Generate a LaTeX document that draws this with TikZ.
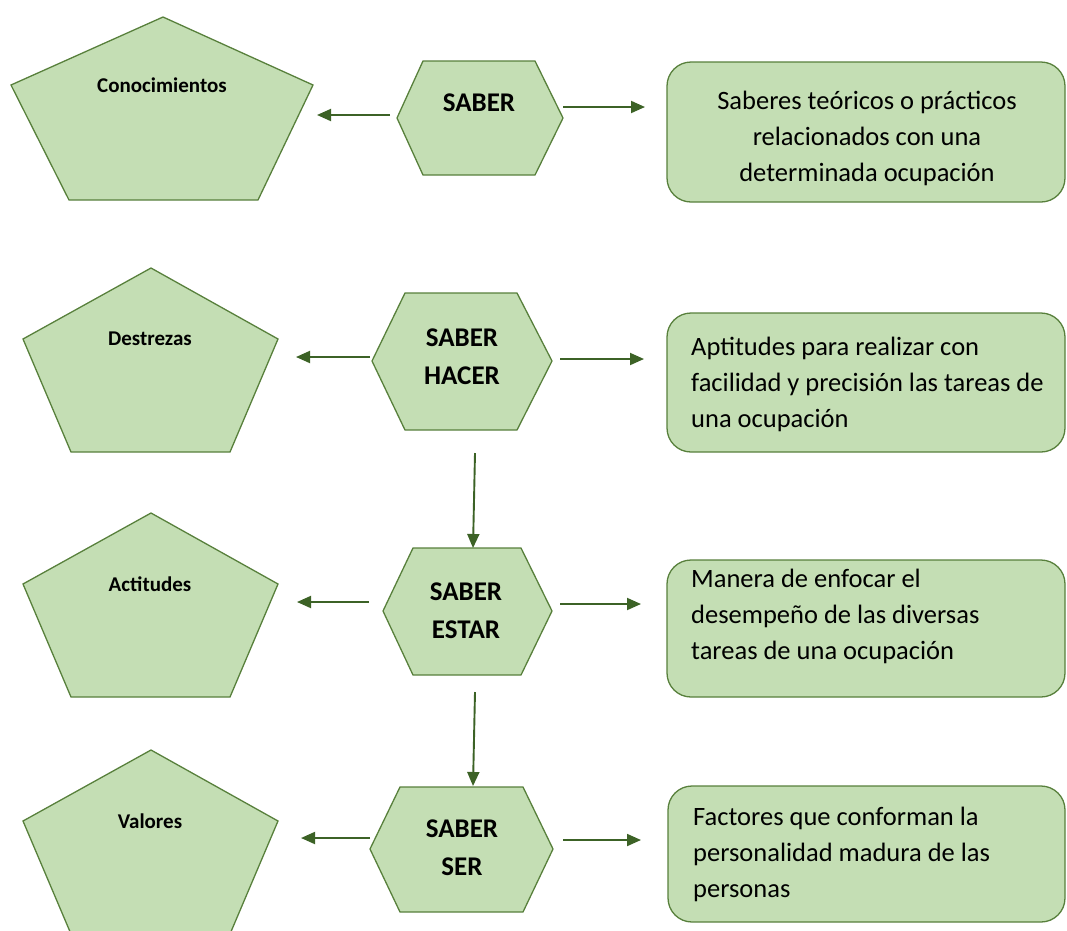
\documentclass[tikz,border=0pt]{standalone}
\usepackage{fontspec}
\setmainfont{Carlito}
\usetikzlibrary{arrows.meta}
\definecolor{fillg}{RGB}{196,222,180}
\definecolor{lineg}{RGB}{88,128,60}
\definecolor{arrg}{RGB}{60,98,38}
\begin{document}
\begin{tikzpicture}[x=1pt,y=-1pt,
  shapeg/.style={fill=fillg,draw=lineg,line width=1.3pt,line join=miter},
  conn/.style={draw=arrg,line width=1.9pt,-{Triangle[length=14pt,width=12pt]}},
  penttext/.style={font=\fontsize{21}{24}\selectfont\bfseries,inner sep=0pt},
  hextext/.style={font=\fontsize{27}{38}\selectfont\bfseries,align=center,inner sep=0pt},
  boxtext/.style={font=\fontsize{26.5}{36}\selectfont,inner sep=0pt},
]
\useasboundingbox (0,0) rectangle (1067,930);

% pentagons
\draw[shapeg] (163,17) -- (313,85) -- (258,200) -- (69,200) -- (11,85) -- cycle;
\node[penttext] (conoc) at (162,85) {Conocimientos};
\draw[shapeg] (151,268) -- (278,339) -- (230,452) -- (71,452) -- (23,339) -- cycle;
\node[penttext] (destr) at (150,339) {Destrezas};
\draw[shapeg] (151,513) -- (278,584) -- (230,697) -- (71,697) -- (23,584) -- cycle;
\node[penttext] (actit) at (150,584) {Actitudes};
\draw[shapeg] (151,750) -- (278,821) -- (230,934) -- (71,934) -- (23,821) -- cycle;
\node[penttext] (valor) at (150,821) {Valores};

% hexagons
\draw[shapeg] (423,61) -- (535,61) -- (563,118) -- (535,175) -- (423,175) -- (397,118) -- cycle;
\node[hextext] (saber) at (479,103) {SABER};
\draw[shapeg] (405,293) -- (517,293) -- (552,361) -- (517,430) -- (405,430) -- (372,361) -- cycle;
\node[hextext] (hacer) at (462,357) {SABER\\HACER};
\draw[shapeg] (413,548) -- (521,548) -- (552,611) -- (521,675) -- (413,675) -- (383,611) -- cycle;
\node[hextext] (estar) at (466,611) {SABER\\ESTAR};
\draw[shapeg] (400,787) -- (523,787) -- (553,849) -- (523,912) -- (400,912) -- (370,849) -- cycle;
\node[hextext] (ser) at (462,848) {SABER\\SER};

% rounded boxes
\draw[shapeg,rounded corners=24pt] (667,62) rectangle (1065,202);
\node[boxtext,align=center] (b1) at (867,138) {Saberes teóricos o prácticos\\relacionados con una\\determinada ocupación};
\draw[shapeg,rounded corners=24pt] (667,313) rectangle (1065,452);
\node[boxtext,align=left,anchor=west] (b2) at (691,384) {Aptitudes para realizar con\\facilidad y precisión las tareas de\\una ocupación};
\draw[shapeg,rounded corners=24pt] (667,560) rectangle (1065,697);
\node[boxtext,align=left,anchor=west] (b3) at (691,616) {Manera de enfocar el\\desempeño de las diversas\\tareas de una ocupación};
\draw[shapeg,rounded corners=24pt] (668,786) rectangle (1065,922);
\node[boxtext,align=left,anchor=west] (b4) at (693,854) {Factores que conforman la\\personalidad madura de las\\personas};

% arrow end points
\coordinate (l1s) at (390,115); \coordinate (l1e) at (317,115);
\coordinate (r1s) at (563,107); \coordinate (r1e) at (645,107);
\coordinate (l2s) at (370,357); \coordinate (l2e) at (296,357);
\coordinate (r2s) at (560,359); \coordinate (r2e) at (644,359);
\coordinate (l3s) at (369,602); \coordinate (l3e) at (297,602);
\coordinate (r3s) at (560,604); \coordinate (r3e) at (641,604);
\coordinate (l4s) at (370,838); \coordinate (l4e) at (301,838);
\coordinate (r4s) at (563,840); \coordinate (r4e) at (641,840);
\coordinate (v1s) at (475,453); \coordinate (v1e) at (473,548);
\coordinate (v2s) at (475,692); \coordinate (v2e) at (473,786);

\draw[conn] (l1s) -- (l1e);
\draw[conn] (r1s) -- (r1e);
\draw[conn] (l2s) -- (l2e);
\draw[conn] (r2s) -- (r2e);
\draw[conn] (l3s) -- (l3e);
\draw[conn] (r3s) -- (r3e);
\draw[conn] (l4s) -- (l4e);
\draw[conn] (r4s) -- (r4e);
\draw[conn] (v1s) -- (v1e);
\draw[conn] (v2s) -- (v2e);
\end{tikzpicture}
\end{document}
